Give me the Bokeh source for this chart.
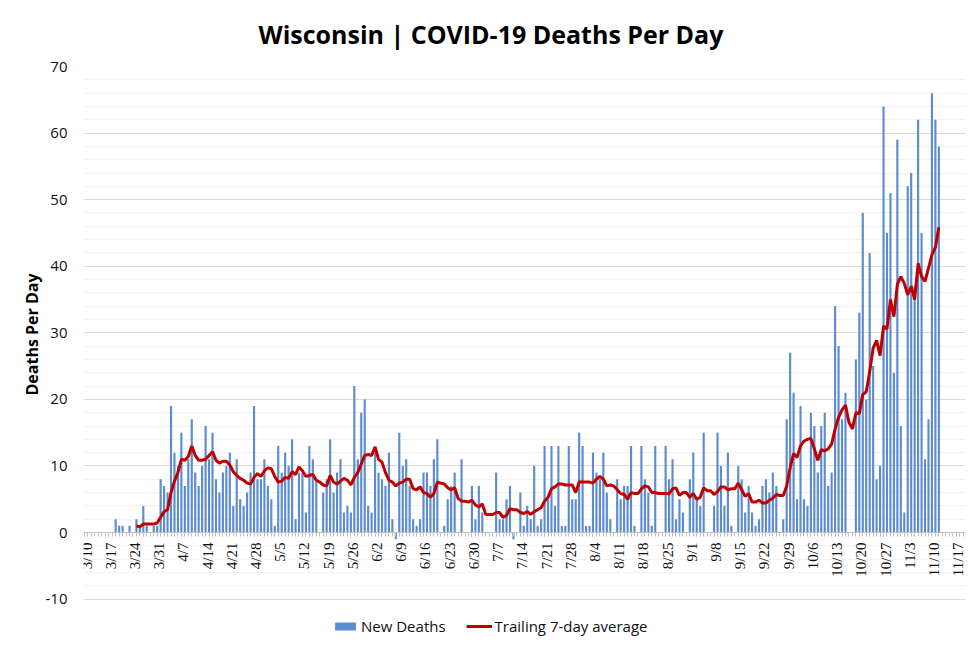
import math
import numpy as np
import pandas as pd
from bokeh.plotting import figure
from bokeh.models import (ColumnDataSource, Range1d, FixedTicker, Legend, LegendItem,
                          LabelSet, Title)
from bokeh.embed import file_html
from bokeh.resources import INLINE

# ---------------- data ----------------
axis_start = "2020-03-10"          # first tick of the date axis
first_day = "2020-03-19"           # first reported day
new_deaths = [
    2, 1, 1, 0, 1, 0, 2, 1, 4, 1, 0, 1, 1, 8, 7, 6, 19, 12, 10, 15,      # 3/19 - 4/7
    7, 11, 17, 9, 7, 10, 16, 11, 15, 8, 6, 9, 10, 12, 4, 11, 5, 4, 6, 9,  # 4/8 - 4/27
    19, 8, 8, 11, 7, 5, 1, 13, 9, 12, 10, 14, 2, 9, 9, 3, 13, 11, 8, 0,  # 4/28 - 5/17
    6, 8, 14, 6, 9, 11, 3, 4, 3, 22, 11, 18, 20, 4, 3, 12, 9, 8, 7, 12,  # 5/18 - 6/6
    2, -1, 15, 10, 11, 7, 2, 1, 2, 9, 9, 7, 11, 14, 0, 1, 5, 7, 9, 0,    # 6/7 - 6/26
    11, 0, 0, 7, 2, 7, 3, 0, 0, 0, 9, 2, 2, 5, 7, -1, 0, 6, 1, 4,        # 6/27 - 7/16
    2, 10, 1, 2, 13, 5, 13, 4, 13, 1, 1, 13, 5, 5, 15, 13, 1, 1, 12, 9,  # 7/17 - 8/5
    8, 12, 6, 2, 0, 8, 5, 7, 7, 13, 1, 0, 13, 8, 6, 1, 13, 0, 0, 13,     # 8/6 - 8/25
    8, 11, 2, 5, 3, 0, 8, 12, 5, 4, 15, 0, 0, 4, 15, 10, 4, 12, 1, 0,    # 8/26 - 9/14
    10, 8, 3, 7, 3, 1, 2, 7, 8, 6, 9, 7, 0, 2, 17, 27, 21, 5, 19, 5,     # 9/15 - 10/4
    4, 18, 16, 9, 16, 18, 7, 9, 34, 28, 17, 21, 0, 0, 26, 33, 48, 20, 42, 25,  # 10/5 - 10/24
    8, 10, 64, 45, 51, 24, 59, 16, 3, 52, 54, 37, 62, 45, 11, 17, 66, 62, 58,  # 10/25 - 11/12
]
tick_labels = ["3/10", "3/17", "3/24", "3/31", "4/7", "4/14", "4/21", "4/28",
               "5/5", "5/12", "5/19", "5/26", "6/2", "6/9", "6/16", "6/23",
               "6/30", "7/7", "7/14", "7/21", "7/28", "8/4", "8/11", "8/18",
               "8/25", "9/1", "9/8", "9/15", "9/22", "9/29", "10/6", "10/13",
               "10/20", "10/27", "11/3", "11/10", "11/17"]
y_ticks = [-10, 0, 10, 20, 30, 40, 50, 60, 70]

# ---------------- derived ----------------
dates = pd.date_range(first_day, periods=len(new_deaths), freq="D")
day = np.asarray((dates - pd.Timestamp(axis_start)).days, dtype=float)
avg7 = pd.Series(new_deaths, dtype=float).rolling(7).mean().to_numpy()
tick_days = [7 * i for i in range(len(tick_labels))]

src = ColumnDataSource(dict(day=day, deaths=np.asarray(new_deaths, dtype=float), avg=avg7))
tick_src = ColumnDataSource(dict(x=tick_days, y=[0] * len(tick_days), label=tick_labels))

FONT = "Open Sans"
BLUE = "#5b8bd0"
RED = "#c00000"
TXT = "#111111"

# frame runs to the bottom edge; the -10 grid line sits ~52px above it
p = figure(width=980, height=650, output_backend="svg", toolbar_location=None,
           x_range=Range1d(-0.3, 254.7), y_range=Range1d(-17.72, 70),
           min_border_left=83, min_border_right=15, min_border_top=65, min_border_bottom=0)
p.outline_line_color = None
p.background_fill_color = "white"
p.border_fill_color = "white"

# title
p.title.text = "Wisconsin | COVID-19 Deaths Per Day"
p.title.text_font = FONT
p.title.text_font_style = "bold"
p.title.text_font_size = "25px"
p.title.text_color = "#000000"
p.title.align = "left"
p.title.vertical_align = "middle"
p.title.standoff = 30
p.title.offset = 175

# glyphs
r_bar = p.vbar(x="day", top="deaths", bottom=0, width=0.62, source=src,
               fill_color=BLUE, line_color=None)
r_line = p.line(x="day", y="avg", source=src, line_color=RED, line_width=3)

# y axis
p.yaxis.ticker = FixedTicker(ticks=y_ticks, minor_ticks=list(range(-10, 71, 2)))
p.yaxis.major_label_overrides = {v: str(v) for v in y_ticks}
p.yaxis.axis_line_color = None
p.yaxis.major_tick_line_color = None
p.yaxis.minor_tick_line_color = None
p.yaxis.major_tick_out = 0
p.yaxis.minor_tick_out = 0
p.yaxis.major_label_text_font = FONT
p.yaxis.major_label_text_font_size = "15px"
p.yaxis.major_label_text_color = TXT
p.yaxis.major_label_standoff = 16

# y-axis title placed beside the tick labels, centred on the -10..70 span
p.add_layout(Title(text="Deaths Per Day", align="left", offset=255, standoff=0,
                   text_font=FONT, text_font_style="bold", text_font_size="16px",
                   text_color="#000000"), "left")

p.ygrid.grid_line_color = "#d9d9d9"
p.ygrid.minor_grid_line_color = "#f2f2f2"
p.xgrid.grid_line_color = None

# x axis crossing at zero (ticks only); date labels set vertically just below it
p.xaxis.fixed_location = 0
p.xaxis.ticker = FixedTicker(ticks=tick_days, minor_ticks=list(range(0, 255)))
p.xaxis.major_label_text_color = None
p.xaxis.axis_line_color = "#bfbfbf"
p.xaxis.major_tick_line_color = "#bfbfbf"
p.xaxis.minor_tick_line_color = "#bfbfbf"
p.xaxis.major_tick_in = 0
p.xaxis.major_tick_out = 4
p.xaxis.minor_tick_in = 0
p.xaxis.minor_tick_out = 4

p.add_layout(LabelSet(x="x", y="y", text="label", source=tick_src, angle=math.pi / 2,
                      text_align="right", text_baseline="middle", x_offset=2, y_offset=-10,
                      text_font=FONT, text_font_size="15px", text_color=TXT))

legend = Legend(items=[LegendItem(label="New Deaths", renderers=[r_bar]),
                       LegendItem(label="Trailing 7-day average", renderers=[r_line])],
                orientation="horizontal", location=(249, 14),
                label_text_font=FONT, label_text_font_size="15px", label_text_color=TXT,
                glyph_width=26, glyph_height=10, label_standoff=3, spacing=20,
                padding=0, margin=0, border_line_color=None, background_fill_alpha=0)
p.add_layout(legend, "center")

open("out.html", "w").write(file_html(p, INLINE))
